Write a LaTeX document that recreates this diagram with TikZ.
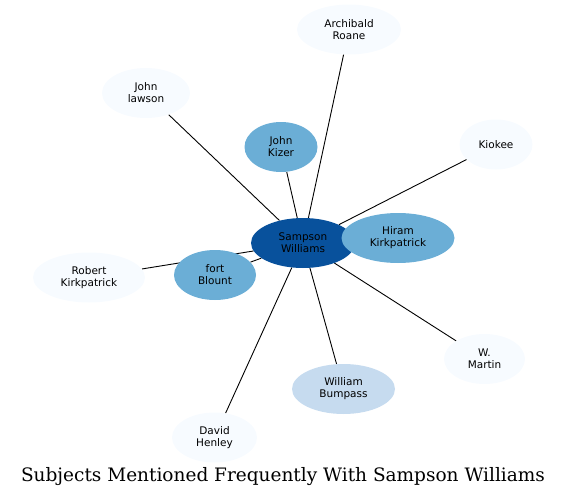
\documentclass[tikz,border=0pt]{standalone}
\usepackage{xcolor}
\usepackage{fontspec}
\newfontfamily\labelfont{DejaVu Sans}
\newfontfamily\titlefont{DejaVu Serif}
\usetikzlibrary{shapes.geometric, backgrounds}
\definecolor{blueDark}{HTML}{08519C}
\definecolor{blueMid}{HTML}{6BAED6}
\definecolor{blueLight}{HTML}{C6DBEF}
\definecolor{bluePale}{HTML}{F7FBFF}

\begin{document}
\begin{tikzpicture}[x=1pt, y=-1pt,
    every node/.style={font=\labelfont\fontsize{10.5}{12}\selectfont, align=center},
    subject/.style={ellipse, inner sep=0pt, minimum height=50pt},
    link/.style={line width=0.9pt, black}]
        \useasboundingbox (0,0) rectangle (565,498);
        % Centre
        \node[subject, fill=blueDark, minimum width=104pt] (sampson) at (303,243) {Sampson\\Williams};
        % Frequent subjects
        \node[subject, fill=blueMid, minimum width=113pt] (hiram) at (398,238) {Hiram\\Kirkpatrick};
        \node[subject, fill=blueMid, minimum width=82pt] (blount) at (215,275) {fort\\Blount};
        \node[subject, fill=blueMid, minimum width=73pt] (kizer) at (281,147) {John\\Kizer};
        \node[subject, fill=blueLight, minimum width=103pt] (bumpass) at (343.5,389) {William\\Bumpass};
        % Rare subjects
        \node[subject, fill=bluePale, minimum width=104pt] (roane) at (349,29.5) {Archibald\\Roane};
        \node[subject, fill=bluePale, minimum width=88pt] (lawson) at (146,93) {John\\lawson};
        \node[subject, fill=bluePale, minimum width=73pt] (kiokee) at (496,144.5) {Kiokee};
        \node[subject, fill=bluePale, minimum width=112pt] (robert) at (89,277.5) {Robert\\Kirkpatrick};
        \node[subject, fill=bluePale, minimum width=81pt] (martin) at (484.5,359) {W.\\Martin};
        \node[subject, fill=bluePale, minimum width=85pt] (henley) at (214.5,437.5) {David\\Henley};
        % Edges
        \begin{scope}[on background layer]
            \foreach \n in {roane, lawson, kizer, kiokee, hiram, robert, blount, henley, bumpass, martin} {
                \draw[link] (sampson) -- (\n);
            }
        \end{scope}
        % Title
        \node[font=\titlefont\fontsize{18.5}{20}\selectfont, anchor=base] (title) at (283,481) {Subjects Mentioned Frequently With Sampson Williams};
    \end{tikzpicture}
\end{document}
